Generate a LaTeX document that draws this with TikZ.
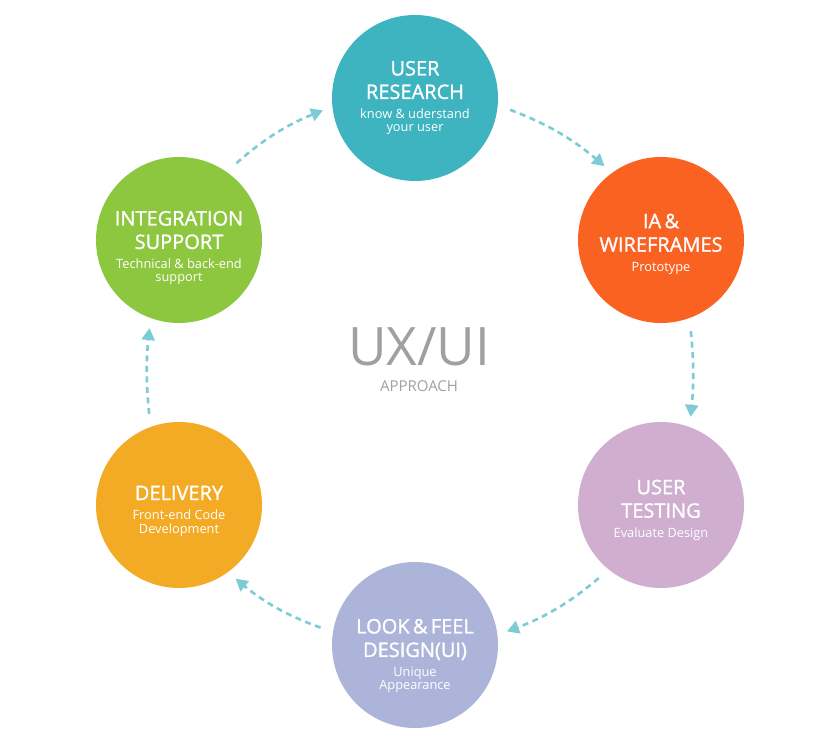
\documentclass[tikz,border=0pt]{standalone}
\usepackage{fontspec}
\setmainfont{Open Sans}
\newfontfamily\semibold{Open Sans}[FakeBold=1.3]
\usetikzlibrary{arrows.meta}

\definecolor{researchcol}{RGB}{62,180,192}
\definecolor{wirecol}{RGB}{250,98,34}
\definecolor{testcol}{RGB}{207,174,207}
\definecolor{lookcol}{RGB}{173,180,217}
\definecolor{delivcol}{RGB}{243,170,36}
\definecolor{integcol}{RGB}{141,198,63}
\definecolor{flowcol}{RGB}{125,204,213}
\definecolor{centercol}{RGB}{160,160,160}

\newcommand{\titlefont}{\semibold\fontsize{20}{23.5}\selectfont}
\newcommand{\subfont}{\fontsize{12.8}{13.5}\selectfont}
% #1 title, #2 subtitle
\newcommand{\stagetext}[2]{{\titlefont #1\par}\vspace{6pt}{\subfont #2\par}}

\tikzset{
  stage/.style={circle, fill=#1, minimum size=166pt, inner sep=0pt},
  stagelabel/.style={text=white, text width=150pt, align=center, inner sep=0pt},
  flow/.style={draw=flowcol, line width=2.6pt, dash pattern=on 6pt off 4.5pt,
    -{Triangle[length=12pt,width=13pt]}, shorten <=13pt, shorten >=10pt}
}

\begin{document}
\begin{tikzpicture}[x=1pt,y=1pt]
\useasboundingbox (0,0) rectangle (840,739);
% the six stages, clockwise from the top
\node[stage=researchcol] (research) at (415,641) {};
\node[stage=wirecol] (wire) at (661,499) {};
\node[stage=testcol] (testing) at (661,234) {};
\node[stage=lookcol] (look) at (415,94) {};
\node[stage=delivcol] (delivery) at (179,234) {};
\node[stage=integcol] (integration) at (179,499) {};

% their texts, a little below the centres
\node[stagelabel] (research-text) at (research)
  {\stagetext{USER\\RESEARCH}{know \& uderstand\\your user}};
\node[stagelabel] (wire-text) at ([yshift=-4pt]wire.center)
  {\stagetext{IA \&\\WIREFRAMES}{Prototype}};
\node[stagelabel] (testing-text) at ([yshift=-5pt]testing.center)
  {\stagetext{USER\\TESTING}{Evaluate Design}};
\node[stagelabel] (look-text) at ([yshift=-11pt]look.center)
  {\stagetext{LOOK \& FEEL\\DESIGN(UI)}{Unique\\Appearance}};
\node[stagelabel] (delivery-text) at ([yshift=-6pt]delivery.center)
  {\stagetext{DELIVERY}{Front-end Code\\Development}};
\node[stagelabel] (integration-text) at ([yshift=-8pt]integration.center)
  {\stagetext{INTEGRATION\\SUPPORT}{Technical \& back-end\\support}};

% title in the middle
\node[text=centercol, font=\fontsize{53}{53}\selectfont] (uxui) at (419,392) {UX/UI};
\node[text=centercol, font=\fontsize{15}{15}\selectfont] (approach) at (419,353) {APPROACH};

% dashed arrows round the cycle
\draw[flow] (research.-5) to[bend left=10] (wire.126);
\draw[flow] (wire.-70) to[bend left=6] (testing.70);
\draw[flow] (testing.-129) to[bend left=10] (look.7);
\draw[flow] (look.171) to[bend left=10] (delivery.-54);
\draw[flow] (delivery.110) to[bend left=6] (integration.-110);
\draw[flow] (integration.55) to[bend left=10] (research.186);
\end{tikzpicture}
\end{document}
